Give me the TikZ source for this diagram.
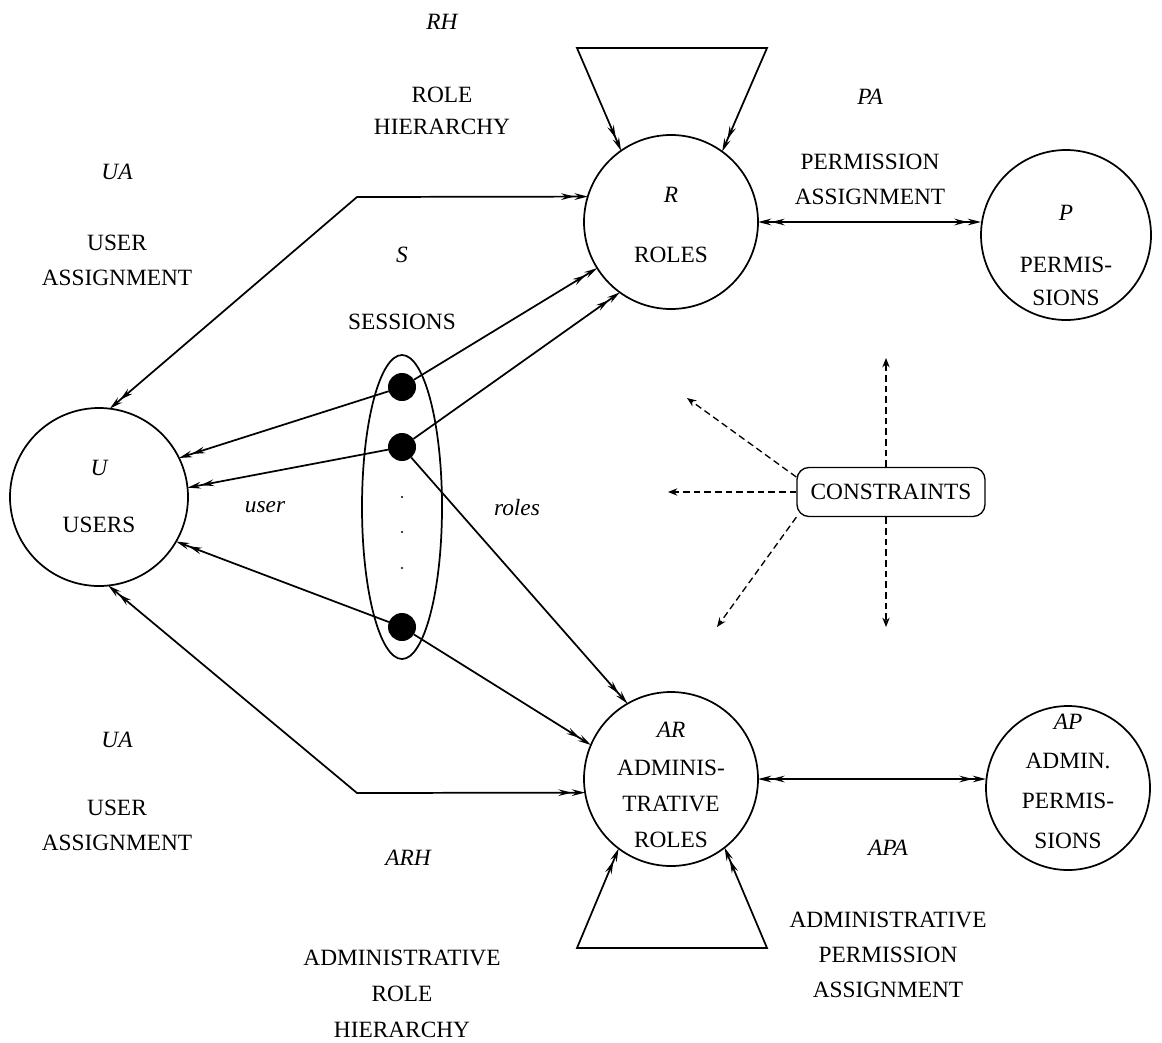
\documentclass[tikz,border=0pt]{standalone}
\usepackage{fontspec}
\setmainfont{Liberation Serif}
\usetikzlibrary{arrows.meta,calc}
\begin{document}
\begin{tikzpicture}[x=0.75pt,y=-0.75pt,
  txt/.style={inner sep=0pt, align=center, font=\fontsize{17.5}{26}\selectfont},
  itl/.style={inner sep=0pt, font=\fontsize{17.5}{26}\selectfont\itshape},
  ent/.style={draw, circle, line width=1.3pt, inner sep=0pt, outer sep=0pt, minimum size=#1},
  sess/.style={circle, fill=black, inner sep=0pt, outer sep=0pt, minimum size=21pt},
  link/.style={line width=1.3pt},
  dbl/.tip={Stealth[length=10pt,width=5pt,inset=3.5pt] Stealth[length=10pt,width=5pt,inset=3.5pt]},
  cons/.style={line width=1pt, dash pattern=on 5pt off 3pt, -{Stealth[open,length=7pt,width=5.5pt]}}]
\useasboundingbox (0,0) rectangle (1162,1042);

% entity circles
\node[ent=130.5pt] (R)  at (671,222) {};
\node[ent=127.5pt] (P)  at (1066,235) {};
\node[ent=133.5pt] (U)  at (99,497) {};
\node[ent=130.5pt] (AR) at (671,779) {};
\node[ent=123pt]   (AP) at (1068,788) {};

% texts inside the circles
\node[itl] (Rl) at (671,195) {R};
\node[txt] (Rt) at (671,255) {ROLES};
\node[itl] (Pl) at (1066,213) {P};
\node[txt,font=\fontsize{17.5}{24.75}\selectfont] (Pt) at (1066,281.5) {PERMIS-\\SIONS};
\node[itl] (Ul) at (99,468) {U};
\node[txt] (Ut) at (99,525) {USERS};
\node[itl] (ARl) at (671,730) {AR};
\node[txt,font=\fontsize{17.5}{27}\selectfont] (ARt) at (671,803.5) {ADMINIS-\\TRATIVE\\ROLES};
\node[itl] (APl) at (1068,722) {AP};
\node[txt,font=\fontsize{17.5}{30}\selectfont] (APt) at (1068,801) {ADMIN.\\PERMIS-\\SIONS};

% relation labels
\node[itl] (RHl) at (442,22) {RH};
\node[txt,font=\fontsize{17.5}{24}\selectfont] (RHt) at (442,111) {ROLE\\HIERARCHY};
\node[itl] (UA1l) at (117,172) {UA};
\node[txt,font=\fontsize{17.5}{26.25}\selectfont] (UA1t) at (117,260.5) {USER\\ASSIGNMENT};
\node[itl] (Sl) at (402,255) {S};
\node[txt] (St) at (402,322) {SESSIONS};
\node[itl] (PAl) at (870,97) {PA};
\node[txt,font=\fontsize{17.5}{26.25}\selectfont] (PAt) at (870,179.5) {PERMISSION\\ASSIGNMENT};
\node[itl] (userl) at (265,507) {user};
\node[itl] (rolesl) at (517,508) {roles};
\node[itl] (UA2l) at (117,740) {UA};
\node[txt,font=\fontsize{17.5}{26.25}\selectfont] (UA2t) at (117,825.5) {USER\\ASSIGNMENT};
\node[itl] (APAl) at (888,848) {APA};
\node[txt,font=\fontsize{17.5}{26.25}\selectfont] (APAt) at (888,955) {ADMINISTRATIVE\\PERMISSION\\ASSIGNMENT};
\node[itl] (ARHl) at (408,858) {ARH};
\node[txt,font=\fontsize{17.5}{27}\selectfont] (ARHt) at (402,994) {ADMINISTRATIVE\\ROLE\\HIERARCHY};

% sessions
\draw[line width=1.3pt] (402,507) ellipse [x radius=40, y radius=152];
\node[sess] (s1) at (402,387) {};
\node[sess] (s2) at (402,447) {};
\node[sess] (s3) at (402,627) {};
\fill (402,497) circle [radius=1.2];
\fill (402,532) circle [radius=1.2];
\fill (402,568) circle [radius=1.2];

% constraints
\node[draw, line width=1pt, rounded corners=9pt, minimum width=141pt, minimum height=36.75pt, inner sep=0pt,
      font=\fontsize{17.5}{26}\selectfont] (C) at (891,492) {CONSTRAINTS};
\coordinate (c1) at (687,398);
\coordinate (c2) at (668,492);
\coordinate (c3) at (717,627);
\coordinate (c4) at (886,358);
\coordinate (c5) at (886,627);
\draw[cons] (C.171) -- (c1);
\draw[cons] (C.west) -- (c2);
\draw[cons] (C.south west) -- (c3);
\draw[cons] (C.north -| c4) -- (c4);
\draw[cons] (C.south -| c5) -- (c5);

% hierarchies
\coordinate (rh1) at (577,48);
\coordinate (rh2) at (767,48);
\draw[link,{dbl}-{dbl}] (R.125) -- (rh1) -- (rh2) -- (R.54);
\coordinate (arh1) at (577,948);
\coordinate (arh2) at (767,948);
\draw[link,{dbl}-{dbl}] (AR.-127) -- (arh1) -- (arh2) -- (AR.-52);

% user assignments
\coordinate (ua1) at (357,197);
\draw[link,{dbl}-{dbl}] (U.83) -- (ua1) -- (R.163.3);
\coordinate (ua2) at (357,793);
\draw[link,{dbl}-{dbl}] (U.-84) -- (ua2) -- (AR.189.3);

% permission assignments
\draw[link,{dbl}-{dbl}] (R.east) -- (R.east -| P.west);
\draw[link,{dbl}-{dbl}] (AR.east) -- (AR.east -| AP.west);

% session links
\draw[link,-{dbl}] (s1) -- (R.212);
\draw[link,-{dbl}] (s2) -- (R.234);
\draw[link,-{dbl}] (s1) -- (U.26);
\draw[link,-{dbl}] (s2) -- (U.6);
\draw[link,-{dbl}] (s3) -- (U.-30.5);
\draw[link,-{dbl}] (s2) -- (AR.120);
\draw[link,-{dbl}] (s3) -- (AR.157);
\end{tikzpicture}
\end{document}
